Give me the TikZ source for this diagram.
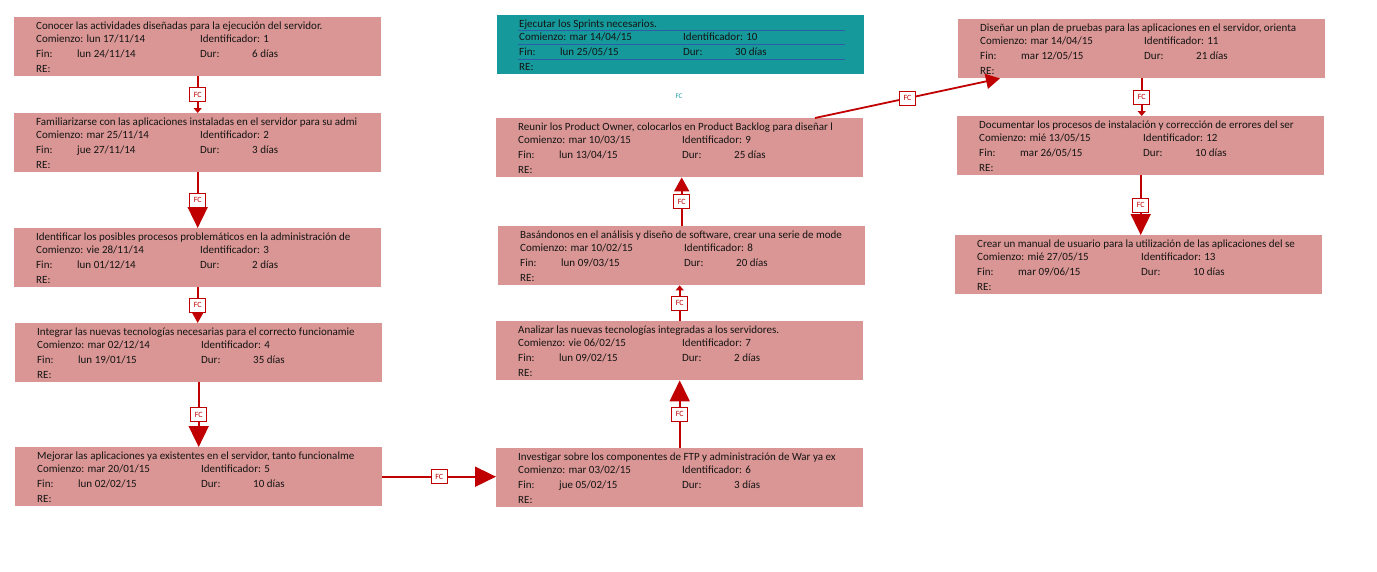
\documentclass[tikz,border=0pt]{standalone}
\usepackage{fontspec}
\setmainfont{Carlito}
\usetikzlibrary{arrows.meta,calc}
\definecolor{pinkbox}{HTML}{D99694}
\definecolor{tealbox}{HTML}{16999B}
\definecolor{fcred}{HTML}{C00000}
\definecolor{rowline}{HTML}{2E5DA8}
\definecolor{txt}{HTML}{141414}
\tikzset{
  taskbox/.style={draw=none,fill=#1,minimum width=367pt,minimum height=59pt,inner sep=0pt,anchor=north west},
  ftext/.style={anchor=west,inner sep=0pt,text height=7.5pt,text depth=2.5pt,text=txt,font=\fontsize{11}{13}\selectfont},
  conn/.style={draw=fcred,line width=1.8pt},
  fcbox/.style={draw=fcred,fill=white,line width=0.8pt,text=fcred,font=\fontsize{8}{9}\selectfont,inner xsep=2pt,inner ysep=2pt,minimum width=16pt,minimum height=14pt},
  bigtip/.style={-{Triangle[width=20pt,length=21pt]}},
  midtip/.style={-{Triangle[width=15pt,length=14pt]}},
  smalltip/.style={-{Triangle[width=8pt,length=5pt]}},
}
% #1 name, #2 x, #3 y, #4 colour, #5 title, #6 comienzo, #7 id, #8 fin, #9 dur
\newcommand{\taskb}[9]{%
  \node[taskbox=#4] (#1) at (#2,#3) {};
  \begin{scope}[shift={(#2,#3)}]
    \node[ftext] (#1-t) at (22,9.5) {#5};
    \node[ftext] (#1-c) at (22,23) {Comienzo: #6};
    \node[ftext] (#1-i) at (186,23) {Identificador: #7};
    \node[ftext] (#1-f) at (22,37.5) {Fin:};
    \node[ftext] (#1-fv) at (63,37.5) {#8};
    \node[ftext] (#1-d) at (186,37.5) {Dur:};
    \node[ftext] (#1-dv) at (238,37.5) {#9};
    \node[ftext] (#1-r) at (22,53) {RE:};
  \end{scope}}
\begin{document}
\begin{tikzpicture}[x=1pt,y=-1pt]
\useasboundingbox (0,0) rectangle (1377,571);
\fill[white] (0,0) rectangle (1377,571);

\taskb{b1}{14}{17}{pinkbox}{Conocer las actividades diseñadas para la ejecución del servidor.}{lun 17/11/14}{1}{lun 24/11/14}{6 días}
\taskb{b2}{14}{113}{pinkbox}{Familiarizarse con las aplicaciones instaladas en el servidor para su admi}{mar 25/11/14}{2}{jue 27/11/14}{3 días}
\taskb{b3}{14}{228}{pinkbox}{Identificar los posibles procesos problemáticos en la administración de}{vie 28/11/14}{3}{lun 01/12/14}{2 días}
\taskb{b4}{15}{323}{pinkbox}{Integrar las nuevas tecnologías necesarias para el correcto funcionamie}{mar 02/12/14}{4}{lun 19/01/15}{35 días}
\taskb{b5}{15}{447}{pinkbox}{Mejorar las aplicaciones ya existentes en el servidor, tanto funcionalme}{mar 20/01/15}{5}{lun 02/02/15}{10 días}
\taskb{b6}{496}{448}{pinkbox}{Investigar sobre los componentes de FTP y administración de War ya ex}{mar 03/02/15}{6}{jue 05/02/15}{3 días}
\taskb{b7}{496}{321}{pinkbox}{Analizar las nuevas tecnologías integradas a los servidores.}{vie 06/02/15}{7}{lun 09/02/15}{2 días}
\taskb{b8}{498}{226}{pinkbox}{Basándonos en el análisis y diseño de software, crear una serie de mode}{mar 10/02/15}{8}{lun 09/03/15}{20 días}
\taskb{b9}{496}{118}{pinkbox}{Reunir los Product Owner, colocarlos en Product Backlog para diseñar l}{mar 10/03/15}{9}{lun 13/04/15}{25 días}
\taskb{b10}{497}{15}{tealbox}{Ejecutar los Sprints necesarios.}{mar 14/04/15}{10}{lun 25/05/15}{30 días}
\taskb{b11}{958}{19}{pinkbox}{Diseñar un plan de pruebas para las aplicaciones en el servidor, orienta}{mar 14/04/15}{11}{mar 12/05/15}{21 días}
\taskb{b12}{957}{116}{pinkbox}{Documentar los procesos de instalación y corrección de errores del ser}{mié 13/05/15}{12}{mar 26/05/15}{10 días}
\taskb{b13}{955}{235}{pinkbox}{Crear un manual de usuario para la utilización de las aplicaciones del se}{mié 27/05/15}{13}{mar 09/06/15}{10 días}

% row separators in the teal box
\draw[rowline,line width=0.8pt] ($(b10.north west)+(21,15)$) -- ($(b10.north west)+(348,15)$);
\draw[rowline,line width=0.8pt] ($(b10.north west)+(21,29.5)$) -- ($(b10.north west)+(348,29.5)$);
\draw[rowline,line width=0.8pt] ($(b10.north west)+(21,44.5)$) -- ($(b10.north west)+(348,44.5)$);

\node[text=tealbox,font=\fontsize{7}{8}\selectfont,inner sep=0pt] (fc10) at (679,96) {FC};

% connectors
\draw[conn,smalltip] (b1.south) -- node[fcbox] (l12) {FC} (b1.south |- b2.north);
\draw[conn,bigtip] (b2.south) -- node[fcbox] (l23) {FC} (b2.south |- b3.north);
\draw[conn,midtip] (b3.south) -- node[fcbox] (l34) {FC} (b3.south |- b4.north);
\draw[conn,bigtip] (b4.south) -- node[fcbox] (l45) {FC} (b4.south |- b5.north);
\draw[conn,bigtip] (b5.east) -- node[fcbox] (l56) {FC} (b5.east -| b6.west);
\draw[conn,bigtip] (b6.north) -- node[fcbox] (l67) {FC} (b6.north |- b7.south);
\draw[conn,smalltip] (b7.north) -- node[fcbox] (l78) {FC} (b7.north |- b8.south);
\draw[conn,midtip] (b8.north) -- node[fcbox] (l89) {FC} (b8.north |- b9.south);
\coordinate (s9) at ($(b9.north west)+(319,0)$);
\coordinate (e11) at ($(b11.south west)+(42,0)$);
\draw[conn,midtip] (s9) -- node[fcbox] (l911) {FC} (e11);
\draw[conn,smalltip] (b11.south) -- node[fcbox] (l1112) {FC} (b11.south |- b12.north);
\draw[conn,bigtip] (b12.south) -- node[fcbox] (l1213) {FC} (b12.south |- b13.north);
\end{tikzpicture}
\end{document}
